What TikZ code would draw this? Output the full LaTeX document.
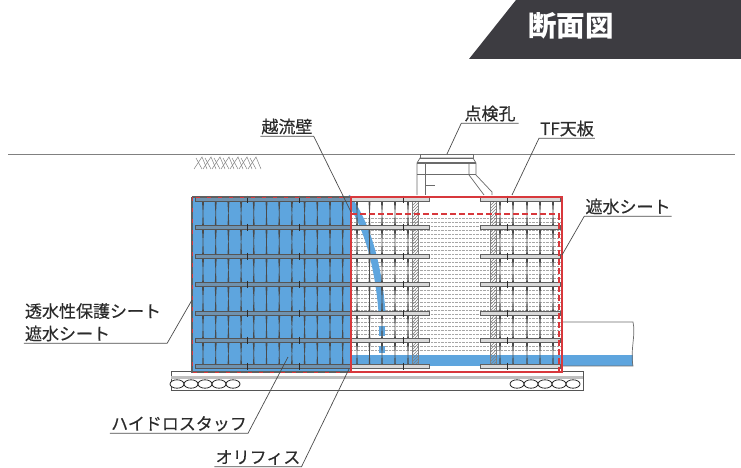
\documentclass[tikz,border=0pt]{standalone}
\usepackage{fontspec}
\setmainfont{Noto Sans CJK JP}
\newfontfamily\lblfont{Noto Sans CJK JP}[FakeBold=0.4]
\usetikzlibrary{patterns}
\definecolor{wallblue}{HTML}{5EA5DE}
\definecolor{sheetred}{HTML}{D8383C}
\definecolor{bannergray}{HTML}{3D3C41}
\definecolor{inkgray}{HTML}{2B2B2B}
\tikzset{
  lbl/.style={text=inkgray,font=\lblfont\fontsize{17}{17}\selectfont,inner xsep=1pt,inner ysep=0pt,text height=14pt,text depth=3pt},
  leader/.style={draw=inkgray!85,line width=0.7pt},
  beam/.style={draw=inkgray!75,fill=gray!30,line width=0.6pt},
  beamblue/.style={draw=inkgray!80,fill=gray!50!wallblue,line width=0.6pt},
  post/.style={fill=inkgray!85},
  outline/.style={draw=inkgray!70,line width=0.7pt},
  redline/.style={draw=sheetred,line width=1.1pt},
  reddash/.style={draw=sheetred,line width=1.4pt,dash pattern=on 6pt off 3pt},
  redsparse/.style={draw=sheetred,line width=0.9pt,dash pattern=on 4pt off 7pt},
  rock/.style={draw=inkgray,line width=0.8pt,fill=white},
}
\begin{document}
\begin{tikzpicture}[x=1pt,y=-1pt]
\useasboundingbox (0,0) rectangle (741,468);
% banner
\fill[bannergray] (516,0)--(741,0)--(741,59)--(469,59)--cycle;
\node (banner) at (571,26) [text=white,inner sep=0pt,font=\fontsize{28.5}{28}\selectfont\bfseries] {断面図};
% ground
\draw[gray,line width=0.8pt] (8,154.5)--(735,154.5);
\foreach \x in {194,203,212,221,230,239,248}{
  \draw[gray,line width=0.5pt] (\x,169)--(\x+8,157)--(\x+13,169);
  \draw[gray,line width=0.5pt] (\x+2,158)--(\x+8,169);
}
% foundation
\draw[inkgray!80,line width=0.8pt,fill=white] (171,371) rectangle (583,390);
\fill[gray!50] (171,375.5) rectangle (583,378.5);
\foreach \x in {177,191,205,219,233,517,531,545,559,573}{
  \draw[rock] (\x,384) ellipse (7 and 4.2);
}
% water and fill
\fill[wallblue] (192,197) rectangle (351,372);
\foreach \y in {218,222,...,350}{
  \draw[gray!70,line width=0.4pt,densely dotted] (351,\y)--(560,\y);
}
\fill[wallblue] (351,355) rectangle (633,366);
% overflow
\draw[wallblue,line width=7pt] (347,197) .. controls (366,222) and (378,262) .. (382,312);
\fill[wallblue] (379,326) rectangle (385,336);
\fill[wallblue] (379,346) rectangle (385,353);
% posts
\foreach \y/\yy in {199/227,227/256,256/284,284/313,313/340,340/367}{
  \foreach \x in {203,215.7,228.4,241.1,253.8,266.5,279.2,291.9,304.6,317.3,330,342.7,357,369.5,382,395,408,500,513,527,540,553}{
    \fill[post] (\x-1,\y+2)--(\x+1,\y+2)--(\x+0.3,{(\y+\yy)/2})--(\x+0.8,\yy-2)--(\x-0.8,\yy-2)--(\x-0.3,{(\y+\yy)/2})--cycle;
  }
}
% columns
\foreach \x in {415,493}{
  \draw[inkgray!60,line width=0.5pt,pattern=north east lines,pattern color=inkgray!60] (\x-3,197) rectangle (\x+3,367);
}
% beams
\fill[gray!75] (195,198) rectangle (233,202);
\foreach \y in {199,227,256,284,313,340,366}{
  \draw[beamblue] (195,\y-2) rectangle (351,\y+2);
  \draw[beam] (351,\y-2) rectangle (429,\y+2);
  \draw[beam] (480,\y-2) rectangle (560,\y+2);
  \foreach \x in {247,299,403,507}{
    \draw[inkgray,line width=0.8pt] (\x,\y-3.5)--(\x,\y+3.5);
  }
}
% inspection shaft
\draw[outline,fill=white] (417,195)--(417,163)--(420,158)--(473,158)--(476,163)--(476,175)--(492,192)--(492,195);
\draw[outline] (420,154.5) rectangle (473,158);
\draw[outline,line width=1.1pt] (417,163)--(476,163);
\draw[outline] (417,174)--(476,174);
\draw[outline] (425,163)--(425,195);
\draw[outline] (469,163)--(469,175)--(484,195);
\draw[outline] (425,185)--(435,185);
% pipe
\draw[outline] (562,322)--(633,322) .. controls (636,335) and (630,350) .. (633,366)--(562,366);
% sheets
\draw[inkgray!75,line width=2pt] (192,197)--(192,372)--(351,372);
\draw[inkgray!75,line width=2pt] (192,197)--(351,197);
\draw[inkgray,line width=1.2pt] (351,197)--(351,372);
\draw[redline] (351,197) rectangle (562,372);
\draw[redsparse] (192,197) rectangle (351,372);
\draw[reddash] (351,214)--(560,214);
\draw[reddash] (562,197)--(562,372);
\draw[reddash] (559,214)--(559,372);
\draw[reddash] (351,372)--(562,372);
% labels
\node (tenken) at (490,114.5) [lbl,inner xsep=3pt] {点検孔};
\node (tenban) at (567,129.5) [lbl] {TF天板};
\node (etsuryu) at (287,127.5) [lbl] {越流壁};
\node (shasuir) at (628,207.5) [lbl] {遮水シート};
\node (hogo) at (95.5,312) [lbl,text width=141pt,align=left] {透水性保護シート};
\node (shasuil) at (95.5,334.5) [lbl,text width=141pt,align=left] {遮水シート};
\node (hydro) at (179,424.5) [lbl] {ハイドロスタッフ};
\node (orifice) at (258,458) [lbl] {オリフィス};
\coordinate (tenkenend) at (447,154);
\coordinate (tenbanend) at (512,195);
\coordinate (etsuryuend) at (351,212);
\coordinate (shasuirend) at (562,255);
\coordinate (shasuilend) at (192,300);
\coordinate (hydroend) at (288,357);
\coordinate (orificeend) at (349,369);
\draw[leader] (tenken.south east)--(tenken.south west)--(tenkenend);
\draw[leader] (tenban.south east)--(tenban.south west)--(tenbanend);
\draw[leader] (etsuryu.south west)--(etsuryu.south east)--(etsuryuend);
\draw[leader] (shasuir.south east)--(shasuir.south west)--(shasuirend);
\draw[leader] (shasuil.south west)--(shasuil.south east)--(shasuilend);
\draw[leader] (hydro.south west)--(hydro.south east)--(hydroend);
\draw[leader] (orifice.south west)--(orifice.south east)--(orificeend);
\end{tikzpicture}
\end{document}
